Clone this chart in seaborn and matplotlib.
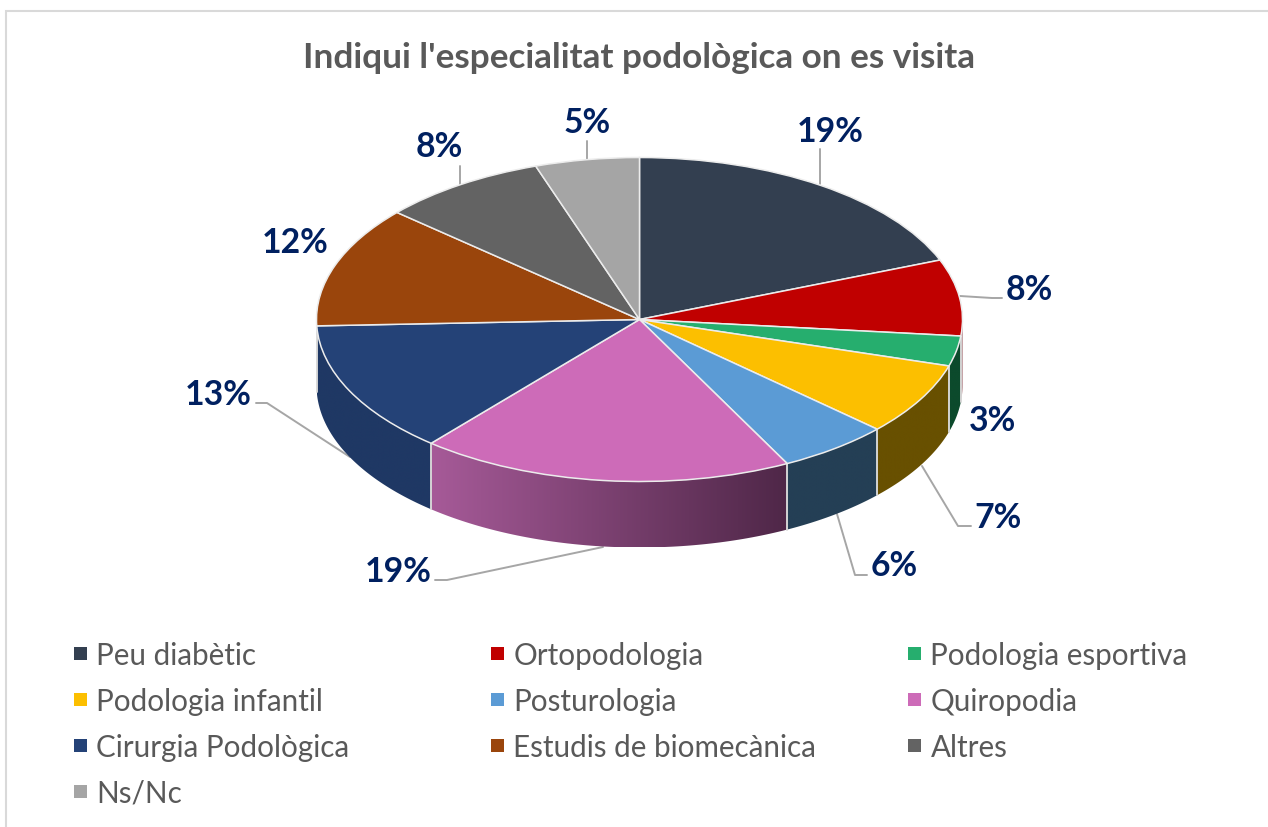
import numpy as np
import pandas as pd
import matplotlib.pyplot as plt
from matplotlib.colors import to_rgb
from matplotlib.patches import Patch, Polygon, Rectangle
import seaborn as sns

# -------------------------------
# Data
# -------------------------------
categories = ['Peu diabètic', 'Ortopodologia', 'Podologia esportiva', 'Podologia infantil',
              'Posturologia', 'Quiropodia', 'Cirurgia Podològica', 'Estudis de biomecànica',
              'Altres', 'Ns/Nc']
values = [19.0, 7.6, 3.0, 7.2, 5.6, 18.7, 13.2, 12.1, 8.3, 5.2]

top_colors = ['#333f50', '#c00000', '#26ae6e', '#fcbf00', '#5b9bd5',
              '#cd6bb8', '#244277', '#9a450c', '#636363', '#a5a5a5']
wall_left = ['#333f50', '#8f4a52', '#0c4a2c', '#685000', '#243f55',
             '#a65a98', '#1f3864', '#7a360a', '#4a4a4a', '#7c7c7c']
wall_right = ['#333f50', '#8f4a52', '#0c4a2c', '#685000', '#243f55',
              '#4f2748', '#1f3864', '#7a360a', '#4a4a4a', '#7c7c7c']

df = pd.DataFrame({'cat': categories, 'val': values})
df['label'] = df['val'].round().astype(int).astype(str) + '%'

# -------------------------------
# Style
# -------------------------------
sns.set_theme(style='white')
plt.rcParams['font.family'] = ['Lato', 'DejaVu Sans']

W, H = 1268, 828
CX, CY, RX, RY = 639.5, 320.5, 323, 162
DEPTH = 66 / RY
NAVY = '#002060'
GREY = '#595959'
LEADER = '#a6a6a6'


def px(x, y):
    # pixel position -> pie units
    return (x - CX) / RX, -(y - CY) / RY


fig = plt.figure(figsize=(W / 100, H / 100), dpi=100)
ax = fig.add_axes([0, 0, 1, 1])

# chart frame
fig.add_artist(Rectangle((6 / W, -0.02), 1.1, 1 - 12 / H + 0.02, transform=fig.transFigure,
                         fill=False, edgecolor='#d9d9d9', linewidth=1.5))

# -------------------------------
# Top of the pie (unit circle squashed by the axes limits)
# -------------------------------
wedges, _ = ax.pie(df['val'], colors=sns.color_palette(top_colors), startangle=90,
                   counterclock=False, radius=1,
                   wedgeprops={'edgecolor': '#ececec', 'linewidth': 1.1})
for w in wedges:
    w.set_zorder(5)

# -------------------------------
# Side wall, front half only, a clipped gradient per slice
# -------------------------------
edges = np.concatenate([[0], np.cumsum(df['val'])]) / df['val'].sum() * 360
for i in range(len(df)):
    a0, a1 = max(edges[i], 90), min(edges[i + 1], 270)
    if a1 <= a0:
        continue
    r = np.radians(90 - np.linspace(a0, a1, 80))
    x, y = np.cos(r), np.sin(r)
    outline = np.column_stack([np.r_[x, x[::-1]], np.r_[y, y[::-1] - DEPTH]])
    grad = np.linspace(to_rgb(wall_left[i]), to_rgb(wall_right[i]), 128)[np.newaxis, :, :]
    im = ax.imshow(grad, extent=[x.min(), x.max(), y.min() - DEPTH, y.max()],
                   aspect='auto', origin='lower', interpolation='bilinear', zorder=3)
    im.set_clip_path(Polygon(outline, closed=True, transform=ax.transData))
    # light seam at the slice edges
    for a in (a0, a1):
        if 90 < a < 270:
            s = np.radians(90 - a)
            ax.plot([np.cos(s)] * 2, [np.sin(s), np.sin(s) - DEPTH],
                    color='#d8d8d8', lw=1.1, zorder=4)

ax.set_aspect('auto')
ax.set_xlim(px(0, 0)[0], px(W, 0)[0])
ax.set_ylim(px(0, H)[1], px(0, 0)[1])
ax.axis('off')

# -------------------------------
# Labels and leader lines
# -------------------------------
label_pos = [(830, 132), (1029, 290), (992, 421), (998, 518), (894, 566),
             (398, 572), (218, 395), (295, 243), (439, 147), (587, 123)]
leaders = [[(820, 185), (820, 150)],
           [(960, 297), (992, 299), (1002, 299)],
           None,
           [(922, 467), (958, 527), (971, 527)],
           [(837, 515), (855, 576), (867, 576)],
           [(603, 548), (447, 581), (435, 581)],
           [(350, 458), (267, 404), (256, 404)],
           None,
           [(460, 186), (460, 167)],
           [(587, 160), (587, 142)]]

for lab, pos, lead in zip(df['label'], label_pos, leaders):
    x, y = px(*pos)
    ax.text(x, y, lab, color=NAVY, fontsize=24.3, fontweight='bold', ha='center', va='center', zorder=7)
    if lead is not None:
        pts = np.array([px(*p) for p in lead])
        ax.plot(pts[:, 0], pts[:, 1], color=LEADER, lw=1.4, zorder=2)

# -------------------------------
# Title
# -------------------------------
fig.text(639 / W, 1 - 58 / H, "Indiqui l'especialitat podològica on es visita",
         color=GREY, fontsize=25.3, fontweight='bold', ha='center', va='center')

# -------------------------------
# Legend, one per column so the columns sit on a fixed grid
# -------------------------------
columns = [[0, 3, 6, 9], [1, 4, 7], [2, 5, 8]]
col_x = [62, 479, 896]
for idx, x0 in zip(columns, col_x):
    handles = [Patch(facecolor=top_colors[i], edgecolor='none') for i in idx]
    fig.legend(handles, [categories[i] for i in idx], loc='upper left',
               bbox_to_anchor=(x0 / W, 1 - 630 / H), frameon=False, fontsize=21.3,
               labelcolor=GREY, handlelength=0.435, handleheight=0.29, handletextpad=0.33,
               labelspacing=0.61, borderpad=0, borderaxespad=0.4)

plt.savefig('out.png', dpi=100)
